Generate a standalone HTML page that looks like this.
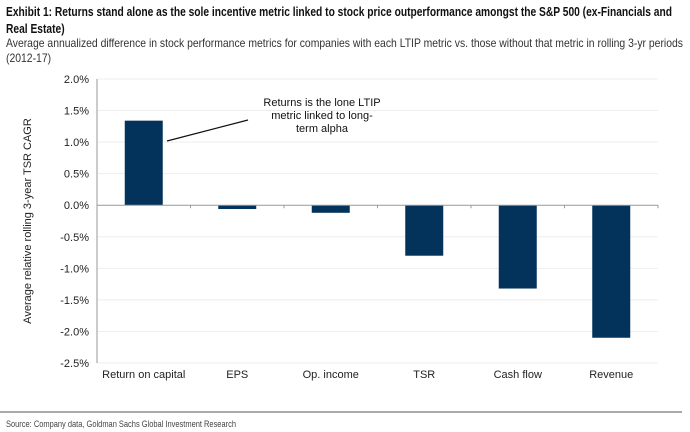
<!DOCTYPE html>
<html><head><meta charset="utf-8"><style>
body{margin:0;background:#fff;width:690px;height:432px;overflow:hidden;font-family:"Liberation Sans",Arial,sans-serif}
.ln{position:absolute;left:6px;white-space:nowrap;transform-origin:left top}
.t{font-weight:bold;font-size:13px;line-height:17px;color:#111}
.s{font-size:12px;line-height:15px;color:#333}
</style></head><body>
<div class="ln t" id="t1" data-fit="666" style="top:3px">Exhibit 1: Returns stand alone as the sole incentive metric linked to stock price outperformance amongst the S&amp;P 500 (ex-Financials and</div>
<div class="ln t" data-same="t1" style="top:20px">Real Estate)</div>
<div class="ln s" id="s1" data-fit="677" style="top:36px">Average annualized difference in stock performance metrics for companies with each LTIP metric vs. those without that metric in rolling 3-yr periods</div>
<div class="ln s" data-same="s1" style="top:51px">(2012-17)</div>
<svg id="c" width="690" height="432" style="position:absolute;left:0;top:0"></svg>
<script>
const sc={};
document.querySelectorAll('[data-fit]').forEach(d=>{const w=d.getBoundingClientRect().width;sc[d.id]=+d.dataset.fit/w;d.style.transform='scaleX('+sc[d.id]+')';});
document.querySelectorAll('[data-same]').forEach(d=>{d.style.transform='scaleX('+sc[d.dataset.same]+')';});
const categories=["Return on capital","EPS","Op. income","TSR","Cash flow","Revenue"];
const values=[1.34,-0.06,-0.12,-0.80,-1.32,-2.10];
const ticks=[2.0,1.5,1.0,0.5,0.0,-0.5,-1.0,-1.5,-2.0,-2.5];
const NS="http://www.w3.org/2000/svg",svg=document.getElementById('c');
const L=97,R=658,T=79,B=363,yMax=2.0,yMin=-2.5;
const y=v=>T+(yMax-v)/(yMax-yMin)*(B-T);
const bw=(R-L)/categories.length;
const x=i=>L+bw*(i+0.5);
function el(tag,a,txt){const e=document.createElementNS(NS,tag);for(const k in a)e.setAttribute(k,a[k]);if(txt!==undefined)e.textContent=txt;svg.appendChild(e);return e;}
ticks.forEach(t=>{
 if(t!==0){const g=el('line',{x1:L,x2:R,y1:y(t),y2:y(t),stroke:'#eeeeee','stroke-width':1});
 
 }
 const tl=el('text',{x:L-8,y:y(t)+4,'text-anchor':'end','font-size':11,fill:'#222'},t.toFixed(1)+'%');
 
 
});
const ya=el('line',{x1:L,x2:L,y1:T,y2:B,stroke:'#999'});


categories.forEach((c,i)=>{
 const v=values[i];
 const r=el('rect',{x:x(i)-19,width:38,y:Math.min(y(v),y(0)),height:Math.abs(y(v)-y(0)),fill:'#03325b'});
 
 
 const l=el('text',{x:x(i),y:B+15,'text-anchor':'middle','font-size':11,fill:'#222'},c);
 
 
});
const za=el('line',{x1:L,x2:R,y1:y(0),y2:y(0),stroke:'#999'});


for(let i=0;i<=categories.length;i++){const tk=el('line',{x1:L+bw*i,x2:L+bw*i,y1:y(0),y2:y(0)+3,stroke:'#999'});
 
 }
const yt=el('text',{x:0,y:0,'text-anchor':'middle','font-size':11,fill:'#222',transform:'translate(31,'+((T+B)/2)+') rotate(-90)'},'Average relative rolling 3-year TSR CAGR');


const al=el('line',{x1:167,y1:141,x2:248,y2:120,stroke:'#111','stroke-width':1.2});


["Returns is the lone LTIP","metric linked to long-","term alpha"].forEach((s,i)=>{
 const a=el('text',{x:322,y:106+i*13,'text-anchor':'middle','font-size':11,fill:'#111'},s);
 
 
});
const sep=el('line',{x1:0,x2:682,y1:412,y2:412,stroke:'#aaa','stroke-width':2});


const src=el('text',{x:6,y:427,'font-size':9,fill:'#444',textLength:230,lengthAdjust:'spacingAndGlyphs'},'Source: Company data, Goldman Sachs Global Investment Research');


</script>
</body></html>
